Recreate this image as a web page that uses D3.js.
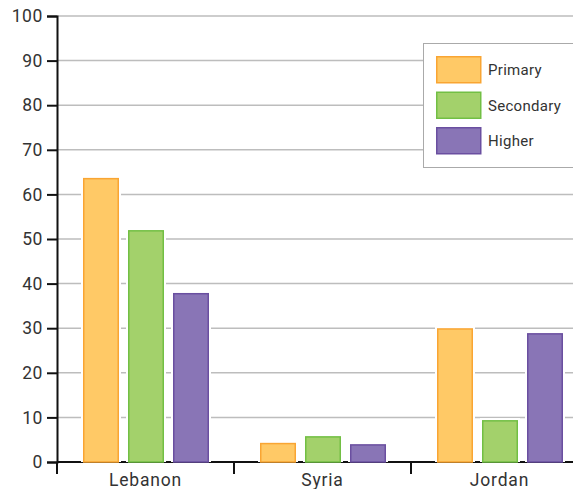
<!DOCTYPE html>
<html>
<head>
<meta charset="utf-8">
<script src="https://cdn.jsdelivr.net/npm/d3@7"></script>
<style>
  body { margin: 0; background: #fff; }
  text { font-family: Roboto, "Noto Sans", sans-serif; }
</style>
</head>
<body>
<div id="chart"></div>
<script>
const categories = ["Lebanon", "Syria", "Jordan"];
const seriesNames = ["Primary", "Secondary", "Higher"];
const primary = [63.7, 4.3, 30];
const secondary = [52, 5.8, 9.4];
const higher = [37.9, 4, 28.9];
const yTicks = [0, 10, 20, 30, 40, 50, 60, 70, 80, 90, 100];

const fills = ["#FFC966", "#A3D16B", "#8975B6"];
const strokes = ["#F9A533", "#72BF44", "#6A4FA0"];

const series = [primary, secondary, higher];

let margin = {top: 16, left: 57},
    W = 573, H = 489;

let svg = d3.select("#chart")
    .append("svg")
    .attr("width", W)
    .attr("height", H);

// bands run past the right edge, the picture is cut there
let x = d3.scaleBand()
    .domain(categories)
    .range([margin.left, margin.left + 177 * 3]);

let x1 = d3.scaleBand()
    .domain(seriesNames)
    .range([26, 26 + 36 * 3 + 18])
    .paddingInner(0.2);

let y = d3.scaleLinear()
    .domain([0, 100])
    .range([462, margin.top]);

// grid
svg.append("g")
    .selectAll("line")
    .data(yTicks.slice(1))
    .join("line")
    .attr("x1", margin.left)
    .attr("x2", W)
    .attr("y1", d => y(d))
    .attr("y2", d => y(d))
    .attr("stroke", "#bdbdbd")
    .attr("stroke-width", 1.5);

// y axis
let yAxis = svg.append("g")
    .attr("transform", `translate(${margin.left},0)`)
    .call(d3.axisLeft(y).tickValues(yTicks).tickSize(10).tickPadding(4));
yAxis.select(".domain").attr("stroke", "#111").attr("stroke-width", 2);
yAxis.selectAll(".tick line").attr("stroke", "#111").attr("stroke-width", 2);
yAxis.selectAll(".tick text")
    .attr("font-size", 17.5)
    .attr("fill", "#333")
    .attr("letter-spacing", 0.6)
    .attr("font-family", "Roboto, sans-serif");

// x axis
let xAxis = svg.append("g")
    .attr("transform", "translate(0,462)");
xAxis.append("line")
    .attr("x1", margin.left).attr("x2", W)
    .attr("stroke", "#111").attr("stroke-width", 2);
xAxis.selectAll(".sep")
    .data(categories)
    .join("line")
    .attr("class", "sep")
    .attr("x1", d => x(d)).attr("x2", d => x(d))
    .attr("y1", 0).attr("y2", 12)
    .attr("stroke", "#111").attr("stroke-width", 2);
xAxis.selectAll(".lab")
    .data(categories)
    .join("text")
    .attr("class", "lab")
    .attr("x", d => x(d) + x.bandwidth() / 2)
    .attr("y", 24)
    .attr("text-anchor", "middle")
    .attr("font-size", 17.5)
    .attr("letter-spacing", 0.8)
    .attr("fill", "#333")
    .text(d => d);

// bars
series.forEach((vals, i) => {
  let g = svg.append("g");
  let bx = c => x(c) + x1(seriesNames[i]);
  // white halo behind bars
  g.selectAll(".halo")
      .data(categories)
      .join("rect")
      .attr("class", "halo")
      .attr("x", c => bx(c) - 2)
      .attr("y", (c, j) => y(vals[j]) - 2)
      .attr("width", x1.bandwidth() + 4)
      .attr("height", (c, j) => y(0) - y(vals[j]) + 2)
      .attr("fill", "#fff");
  g.selectAll(".bar")
      .data(categories)
      .join("rect")
      .attr("class", "bar")
      .attr("x", c => bx(c) + 0.75)
      .attr("y", (c, j) => y(vals[j]) + 0.75)
      .attr("width", x1.bandwidth() - 1.5)
      .attr("height", (c, j) => y(0) - y(vals[j]) - 0.75)
      .attr("fill", fills[i])
      .attr("stroke", strokes[i])
      .attr("stroke-width", 1.5);
});

// legend
let legend = svg.append("g").attr("transform", "translate(423,43)");
legend.append("rect")
    .attr("x", 0.5).attr("y", 0.5)
    .attr("width", 170).attr("height", 124)
    .attr("fill", "#fff")
    .attr("stroke", "#aaa");
let items = legend.selectAll(".item")
    .data(seriesNames)
    .join("g")
    .attr("class", "item")
    .attr("transform", (d, i) => `translate(13,${13 + i * 35.5})`);
items.append("rect")
    .attr("x", 0.75).attr("y", 0.75)
    .attr("width", 44).attr("height", 26)
    .attr("fill", (d, i) => fills[i])
    .attr("stroke", (d, i) => strokes[i])
    .attr("stroke-width", 1.5);
items.append("text")
    .attr("x", 52)
    .attr("y", 14)
    .attr("dy", "0.35em")
    .attr("font-size", 15)
    .attr("letter-spacing", 0.3)
    .attr("fill", "#333")
    .text(d => d);
</script>
</body>
</html>
